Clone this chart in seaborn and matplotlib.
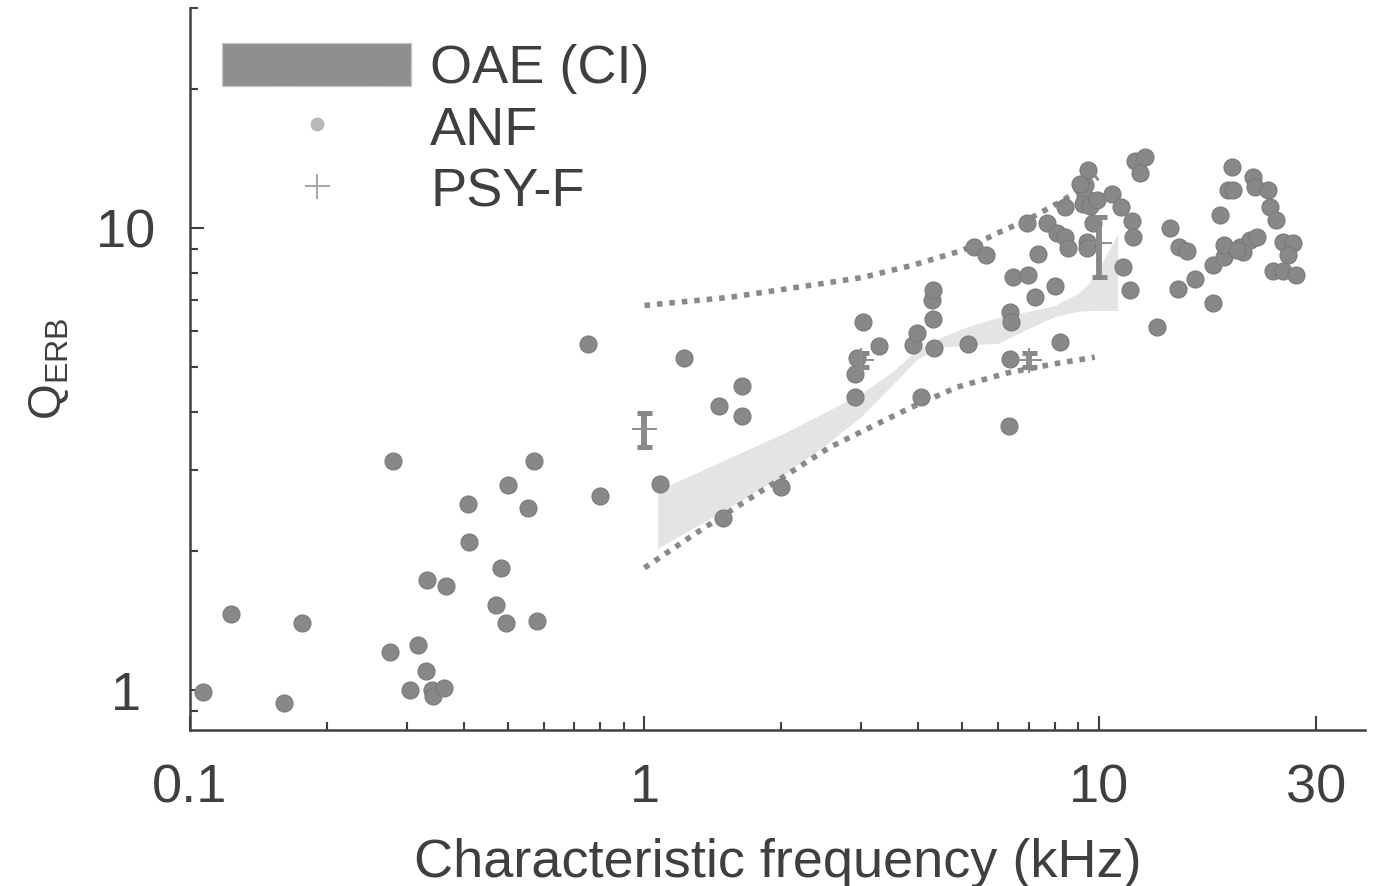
import matplotlib
matplotlib.use("Agg")
import matplotlib.pyplot as plt
import seaborn as sns
import numpy as np
import pandas as pd
from matplotlib.patches import Patch
from matplotlib.lines import Line2D
from matplotlib.ticker import FixedLocator, NullFormatter

# ANF tuning: characteristic frequency (kHz) and Q_ERB
anf_cf = [0.107, 0.123, 0.161, 0.176, 0.276, 0.279, 0.305, 0.318, 0.331, 0.333,
          0.340, 0.343, 0.363, 0.366, 0.41, 0.412, 0.472, 0.484, 0.497, 0.50,
          0.553, 0.57, 0.581, 0.753, 0.80, 1.08, 1.22, 1.49, 1.64, 1.46,
          1.64, 2.0, 2.90, 2.90, 2.93, 3.02, 3.28, 3.89, 3.97, 4.33,
          4.31, 4.29, 4.31, 4.05, 5.14, 5.31, 5.64, 6.37, 6.34, 6.37,
          6.40, 6.46, 6.98, 7.23, 7.34, 8.0, 8.2, 6.94, 7.68, 8.08,
          8.42, 8.55, 8.42, 9.31, 9.31, 9.22, 9.55, 9.90, 9.46, 9.08,
          10.7, 11.2, 9.41, 9.41, 9.70, 11.8, 11.9, 11.3, 11.7, 12.0,
          12.6, 12.3, 13.4, 14.3, 14.9, 15.0, 15.6, 16.3, 17.8, 17.8,
          18.8, 18.8, 18.5, 19.2, 19.7, 19.6, 20.4, 21.5, 22.3, 20.8,
          20.1, 21.8, 22.1, 23.6, 23.8, 24.5, 25.4, 26.7, 26.1, 24.2,
          25.4, 27.2]
anf_q = [0.99, 1.46, 0.94, 1.40, 1.21, 3.13, 1.0, 1.25, 1.10, 1.73,
         1.0, 0.97, 1.01, 1.68, 2.53, 2.09, 1.53, 1.84, 1.40, 2.78,
         2.48, 3.13, 1.41, 5.61, 2.63, 2.79, 5.23, 2.36, 4.55, 4.12,
         3.92, 2.75, 4.31, 4.83, 5.23, 6.26, 5.55, 5.58, 5.93, 5.50,
         6.35, 6.98, 7.34, 4.31, 5.61, 9.10, 8.74, 5.21, 3.73, 6.58,
         6.26, 7.83, 7.91, 7.09, 8.78, 7.49, 5.67, 10.25, 10.25, 9.75,
         9.56, 9.05, 11.1, 12.4, 11.7, 11.3, 11.2, 11.5, 13.4, 12.5,
         11.85, 11.1, 9.33, 9.05, 10.25, 10.35, 9.56, 8.23, 7.34, 14.0,
         14.3, 13.2, 6.11, 10.0, 7.38, 9.10, 8.92, 7.76, 6.88, 8.32,
         8.65, 9.19, 10.7, 12.1, 12.1, 13.6, 9.10, 9.42, 9.56, 8.87,
         8.96, 12.9, 12.3, 12.1, 11.1, 10.4, 9.33, 9.29, 8.74, 8.07,
         8.07, 7.91]

# OAE confidence band
oae_cf = [1.07, 1.5, 2, 2.5, 3, 3.5, 4, 4.5, 5, 6, 7, 8, 9, 9.5, 10, 10.5, 11]
oae_hi = [2.71, 3.15, 3.58, 4.0, 4.39, 4.88, 5.47, 5.81, 6.07, 6.42, 6.61,
          6.81, 7.23, 7.60, 8.19, 8.96, 9.75]
oae_lo = [2.03, 2.45, 2.91, 3.39, 3.92, 4.57, 5.23, 5.53, 5.58, 5.64, 6.07,
          6.45, 6.61, 6.64, 6.64, 6.64, 6.64]

# dotted bounds
upper_cf = [1.0, 1.54, 2.16, 3.02, 3.89, 5.01, 5.96, 7.05, 8.33, 9.95]
upper_q = [6.81, 7.09, 7.45, 7.83, 8.32, 8.96, 9.75, 10.5, 11.5, 12.9]
lower_cf = [1.0, 1.30, 1.82, 2.56, 3.83, 4.87, 6.27, 8.08, 9.79]
lower_q = [1.84, 2.19, 2.71, 3.36, 4.08, 4.53, 4.86, 5.10, 5.26]

# PSY-F with error
psy_cf = [1, 3, 7, 10]
psy_q = [3.67, 5.18, 5.18, 9.28]
psy_lo = [3.36, 5.0, 5.0, 7.83]
psy_hi = [3.98, 5.36, 5.36, 10.6]

sns.set_theme(style="ticks")
plt.rcParams["font.family"] = ["Liberation Sans", "DejaVu Sans"]
plt.rcParams["mathtext.fontset"] = "custom"
plt.rcParams["mathtext.rm"] = "Liberation Sans"

txt = "#3f3f3f"
fs = 39

fig = plt.figure(figsize=(13.77, 8.86), dpi=100)
ax = fig.add_axes([190 / 1377, 1 - 730 / 886, (1365 - 190) / 1377, (730 - 8) / 886])

ax.fill_between(oae_cf, oae_lo, oae_hi, color="#e4e4e4", lw=0, zorder=1)

for cf, q in [(upper_cf, upper_q), (lower_cf, lower_q)]:
    sns.lineplot(x=cf, y=q, ax=ax, color="#8a8a8a", lw=4.0, sort=False,
                 linestyle=(0, (1, 1.25)), dash_capstyle="butt", zorder=2)

anf = pd.DataFrame({"cf": anf_cf, "q": anf_q})
sns.scatterplot(data=anf, x="cf", y="q", ax=ax, color="#888888", s=150,
                edgecolor="#7a7a7a", linewidth=0.8, zorder=3)

yerr = [np.array(psy_q) - np.array(psy_lo), np.array(psy_hi) - np.array(psy_q)]
ax.errorbar(psy_cf, psy_q, yerr=yerr, fmt="none", ecolor="#888888",
            elinewidth=4.2, capsize=5.4, capthick=3.6, zorder=4)
ax.plot(psy_cf, psy_q, ls="none", marker="+", ms=18, mew=1.4, color="#8e8e8e", zorder=5)

ax.set_xscale("log")
ax.set_yscale("log")
ax.set_xlim(0.1, 38.5)
ax.set_ylim(0.82, 30)

ax.xaxis.set_major_locator(FixedLocator([0.1, 1, 10, 30]))
ax.xaxis.set_minor_locator(FixedLocator([0.2, 0.3, 0.4, 0.5, 0.6, 0.7, 0.8, 0.9,
                                         2, 3, 4, 5, 6, 7, 8, 9]))
ax.set_xticklabels(["0.1", "1", "10", "30"])
ax.xaxis.set_minor_formatter(NullFormatter())
ax.yaxis.set_major_locator(FixedLocator([1, 10]))
ax.yaxis.set_minor_locator(FixedLocator([0.9, 2, 3, 4, 5, 6, 7, 8, 9, 20, 30]))
ax.set_yticklabels(["1", "10"])
ax.yaxis.set_minor_formatter(NullFormatter())

sns.despine(ax=ax)
for s in ["left", "bottom"]:
    ax.spines[s].set_color("#404040")
    ax.spines[s].set_linewidth(1.8)
ax.tick_params(which="both", direction="in", colors="#404040", width=1.5,
               labelsize=fs, labelcolor=txt)
ax.tick_params(which="major", length=10)
ax.tick_params(which="minor", length=6)
ax.tick_params(axis="x", which="major", pad=24)
ax.tick_params(axis="y", which="major", pad=46)
for lbl in ax.get_yticklabels():
    lbl.set_horizontalalignment("center")

ax.set_xlabel("Characteristic frequency (kHz)", fontsize=fs, color=txt, labelpad=18)
ax.set_ylabel("Q$_\\mathregular{ERB}$", fontsize=33, color=txt, labelpad=18)

handles = [Patch(facecolor="#8f8f8f", edgecolor="#c4c4c4", linestyle="--", linewidth=1),
           Line2D([], [], ls="none", marker="o", ms=9, color="#b8b8b8"),
           Line2D([], [], ls="none", marker="+", ms=18, mew=1.5, color="#a8a8a8")]
leg = ax.legend(handles, ["OAE (CI)", "ANF", "PSY-F"], loc="upper left",
                bbox_to_anchor=(0.027, 0.952), frameon=False, fontsize=fs,
                handlelength=3.5, handleheight=0.85, handletextpad=0.35,
                labelspacing=0.19, borderaxespad=0, borderpad=0)
for t in leg.get_texts():
    t.set_color(txt)

fig.savefig("out.png", dpi=100)
